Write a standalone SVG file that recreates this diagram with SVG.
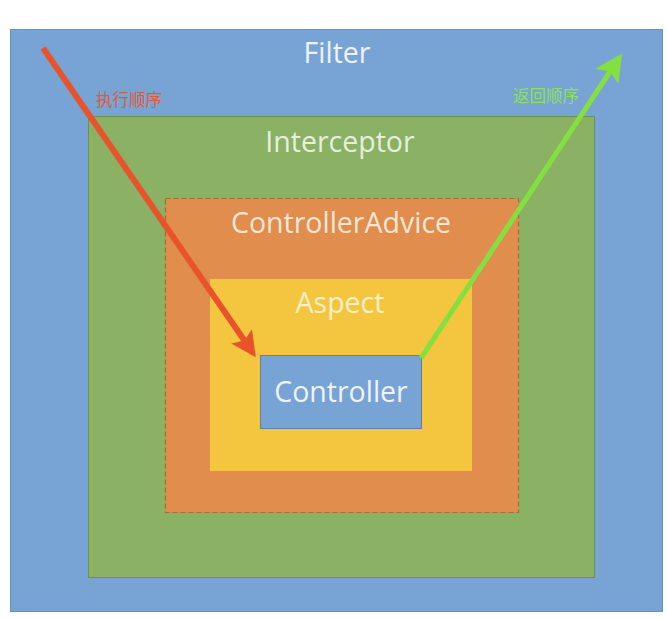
<svg xmlns="http://www.w3.org/2000/svg" width="667" height="618" viewBox="0 0 667 618">
<defs>
<style>
.lbl{font-family:"Open Sans","Noto Sans","Liberation Sans",sans-serif;font-size:28.5px;text-anchor:middle;}
.cn{font-family:"Noto Sans CJK SC","Noto Sans",sans-serif;font-size:16.5px;}
</style>
<marker id="ar" viewBox="0 0 10 10" refX="8" refY="5" markerWidth="4.2" markerHeight="4.2" orient="auto" markerUnits="strokeWidth"><path d="M0,0 L10,5 L0,10 L2,5 Z" fill="#E8532C"/></marker>
<marker id="ag" viewBox="0 0 10 10" refX="8" refY="5" markerWidth="5.5" markerHeight="5.5" orient="auto" markerUnits="strokeWidth"><path d="M0,0 L10,5 L0,10 L2,5 Z" fill="#84E040"/></marker>
</defs>
<rect width="667" height="618" fill="#ffffff"/>
<g id="filter">
<rect x="10.5" y="29.5" width="652" height="582" fill="#78A3D5" stroke="#6E8FB5" stroke-width="1"/>
<text class="lbl" x="337" y="63" fill="#EEF3FA">Filter</text>
</g>
<g id="interceptor">
<rect x="88.5" y="116.5" width="506" height="461" fill="#8BB164" stroke="#6F9150" stroke-width="1"/>
<text class="lbl" x="340" y="152" fill="#E6EEDD">Interceptor</text>
</g>
<g id="controllerAdvice">
<rect x="165.5" y="198.5" width="353" height="314" fill="#E08D4D" stroke="#A8683A" stroke-width="1.2" stroke-dasharray="5,3"/>
<text class="lbl" x="341" y="233" fill="#F7E6D6">ControllerAdvice</text>
</g>
<g id="aspect">
<rect x="210" y="279" width="262" height="192" fill="#F4C63F"/>
<text class="lbl" x="340" y="313" fill="#FBEFCB">Aspect</text>
</g>
<g id="controller">
<rect x="260.5" y="355.5" width="161" height="73" fill="#78A3D5" stroke="#5E7FA8" stroke-width="1"/>
<text class="lbl" x="341" y="402" fill="#EEF3FA">Controller</text>
</g>
<g id="connectors">
<line x1="43" y1="48" x2="253" y2="353" stroke="#E8532C" stroke-width="6" marker-end="url(#ar)"/>
<line x1="421" y1="358" x2="619" y2="58" stroke="#84E040" stroke-width="5" marker-end="url(#ag)"/>
<text class="cn" x="96" y="106" fill="#E05A3A">执行顺序</text>
<text class="cn" x="513" y="102" fill="#8EE060">返回顺序</text>
</g>
</svg>
